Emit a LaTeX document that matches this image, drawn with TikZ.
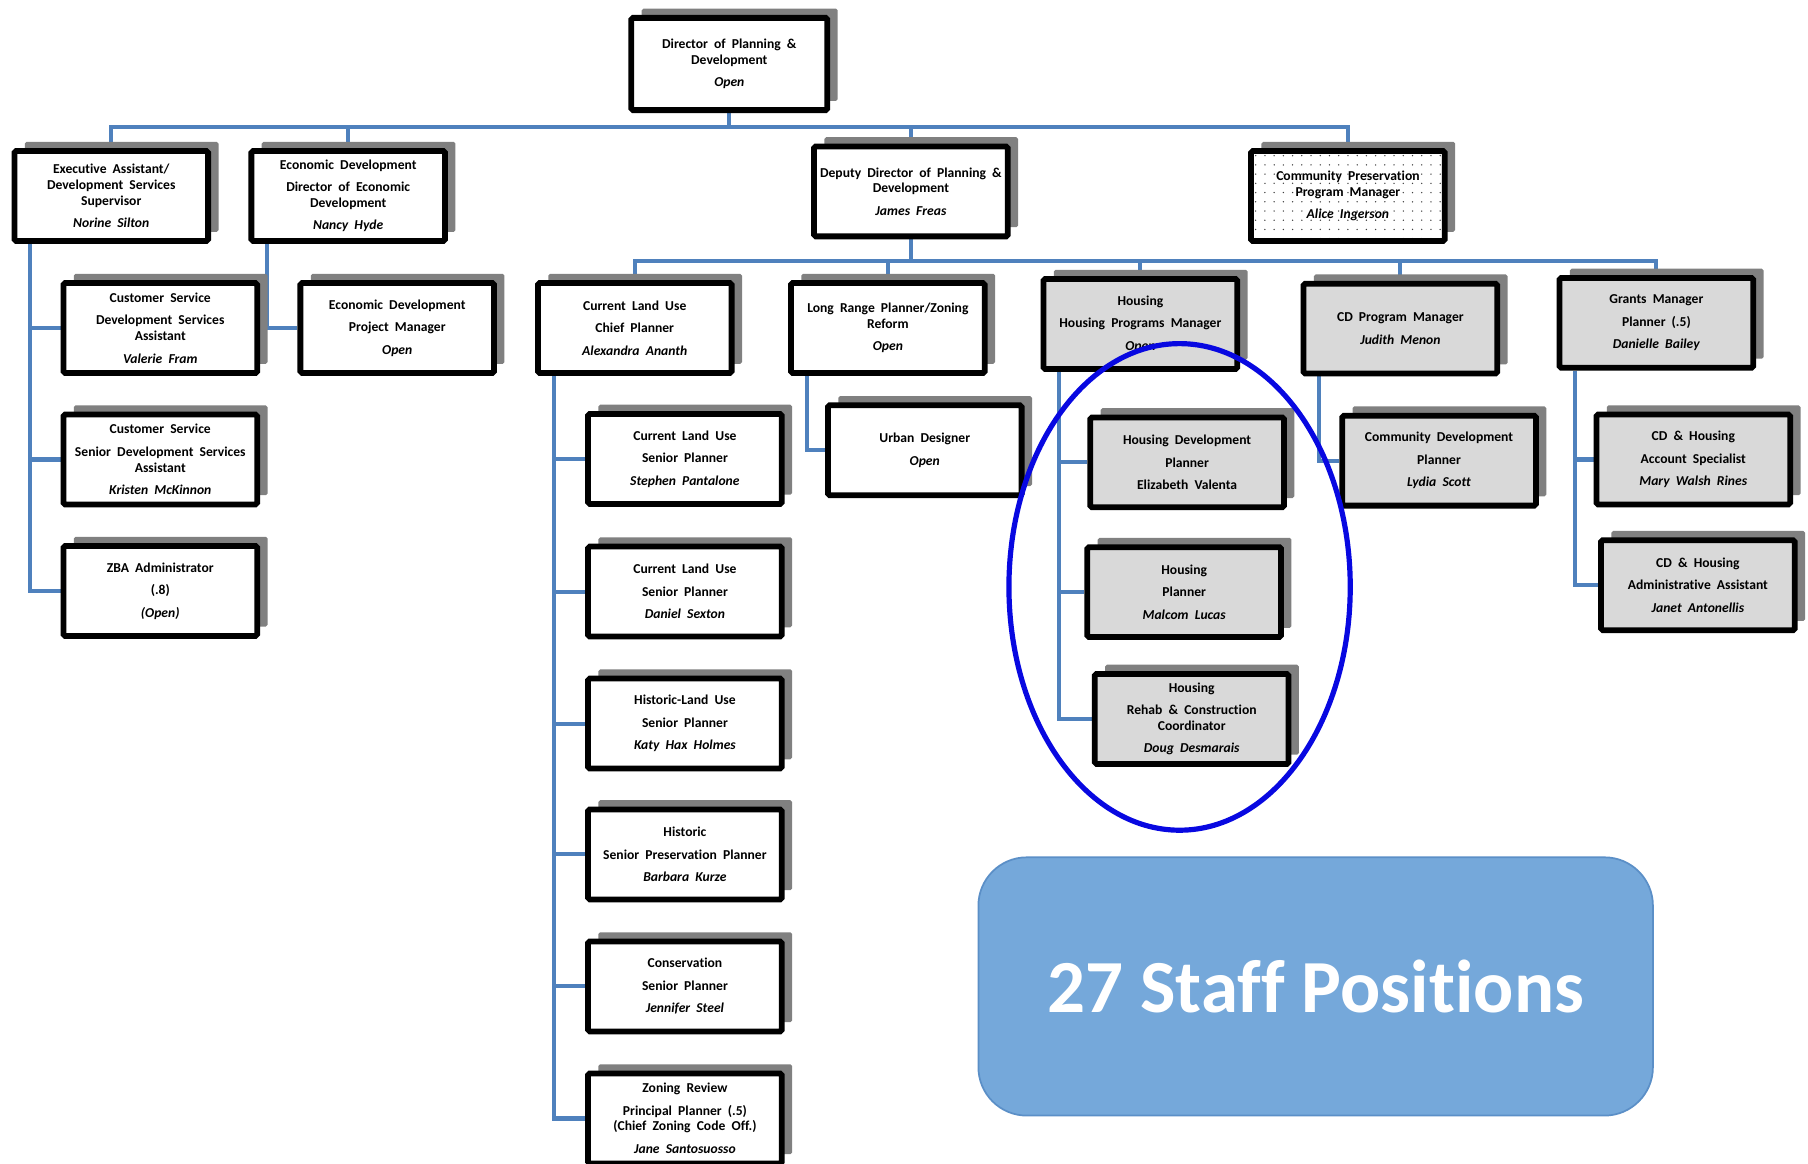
\documentclass[tikz,border=0pt]{standalone}
\usepackage{fontspec}
\setmainfont{Carlito}[Ligatures=NoCommon]
\usetikzlibrary{shadows,backgrounds,calc,shapes.geometric}
\definecolor{connblue}{RGB}{79,129,189}
\definecolor{shgray}{RGB}{128,128,128}
\definecolor{boxgray}{RGB}{217,217,217}
\definecolor{staffblue}{RGB}{117,168,218}
\definecolor{staffedge}{RGB}{91,143,199}
\definecolor{ellblue}{RGB}{8,8,225}
\newcommand\orgboxfont{\fontsize{11.8}{13.5}\selectfont\bfseries\spaceskip=0.45em plus 0.1em minus 0.1em\relax}
\begin{document}
\begin{tikzpicture}[x=1pt,y=-1pt,
  box/.style={draw=black, line width=5pt, rounded corners=1.5pt, fill=white,
    minimum width=168pt, minimum height=78pt, inner sep=1pt, align=center,
    font=\orgboxfont,
    general shadow={fill=shgray, shadow xshift=9pt, shadow yshift=8pt}},
  gbox/.style={box, fill=boxgray},
  conn/.style={draw=connblue, line width=3.5pt},
  staffbox/.style={draw=staffedge, line width=1.5pt, fill=staffblue, rounded corners=42pt,
    minimum width=585pt, minimum height=224pt, text=white,
    font=\fontsize{65}{70}\selectfont\bfseries},
  ring/.style={draw=ellblue, line width=4.5pt, ellipse, minimum width=296pt, minimum height=422pt},
]
\useasboundingbox (0,0) rectangle (1568,1009);

% top level
\node[box, minimum width=170pt, minimum height=80pt] (dir) at (632.5,55.5)
  {Director of Planning \&\\Development\\[6pt]\textit{Open}};

% row 1
\node[box] (exa) at (96.5,170) {Executive Assistant/\\Development Services\\Supervisor\\[6pt]\textit{Norine Silton}};
\node[box] (ecd) at (302,170) {Economic Development\\[6pt]Director of Economic\\Development\\[6pt]\textit{Nancy Hyde}};
\node[box] (dep) at (790,166) {Deputy Director of Planning \&\\Development\\[6pt]\textit{James Freas}};
\node[box, path picture={
    \foreach \i in {0,...,20} \foreach \j in {0,...,10}
      \fill[black!75] ($(path picture bounding box.north west)+(\i*8+4,\j*8+4)$) circle (0.65pt);}]
  (cpm) at (1169,170) {Community Preservation\\Program Manager\\[6pt]\textit{Alice Ingerson}};

% left branch
\node[box] (cs1) at (139,284.5) {Customer Service\\[6pt]Development Services\\Assistant\\[6pt]\textit{Valerie Fram}};
\node[box] (cs2) at (139,398.5) {Customer Service\\[6pt]Senior Development Services\\Assistant\\[6pt]\textit{Kristen McKinnon}};
\node[box] (zba) at (139,512.5) {ZBA Administrator\\[6pt](.8)\\[6pt]\textit{(Open)}};
\node[box] (edpm) at (344.5,284.5) {Economic Development\\[6pt]Project Manager\\[6pt]\textit{Open}};

% row 2
\node[box] (clu) at (550.5,284.5) {Current Land Use\\[6pt]Chief Planner\\[6pt]\textit{Alexandra Ananth}};
\node[box] (lrp) at (770,284.5) {Long Range Planner/Zoning\\Reform\\[6pt]\textit{Open}};
\node[gbox] (hou) at (989,281) {Housing\\[6pt]Housing Programs Manager\\[6pt]\textit{Open}};
\node[gbox] (cdp) at (1214.5,285) {CD Program Manager\\[6pt]\textit{Judith Menon}};
\node[gbox] (grm) at (1436.5,280) {Grants Manager\\[6pt]Planner (.5)\\[6pt]\textit{Danielle Bailey}};

% current land use column
\node[box] (s1) at (594,398) {Current Land Use\\[6pt]Senior Planner\\[6pt]\textit{Stephen Pantalone}};
\node[box] (s2) at (594,513) {Current Land Use\\[6pt]Senior Planner\\[6pt]\textit{Daniel Sexton}};
\node[box] (s3) at (594,627.5) {Historic-Land Use\\[6pt]Senior Planner\\[6pt]\textit{Katy Hax Holmes}};
\node[box] (s4) at (594,741) {Historic\\[6pt]Senior Preservation Planner\\[6pt]\textit{Barbara Kurze}};
\node[box] (s5) at (594,855.5) {Conservation\\[6pt]Senior Planner\\[6pt]\textit{Jennifer Steel}};
\node[box] (s6) at (594,970) {Zoning Review\\[6pt]Principal Planner (.5)\\(Chief Zoning Code Off.)\\[6pt]\textit{Jane Santosuosso}};

% long range
\node[box] (urb) at (802,390.5) {Urban Designer\\[6pt]\textit{Open}};

% housing column
\node[gbox] (hd1) at (1029.5,401) {Housing Development\\[6pt]Planner\\[6pt]Elizabeth Valenta};
\node[gbox] (hd2) at (1027,513.5) {Housing\\[6pt]Planner\\[6pt]\textit{Malcom Lucas}};
\node[gbox] (hd3) at (1033.5,623.5) {Housing\\[6pt]Rehab \& Construction\\Coordinator\\[6pt]\textit{Doug Desmarais}};

% CD program
\node[gbox] (cdpl) at (1248,399.5) {Community Development\\[6pt]Planner\\[6pt]\textit{Lydia Scott}};

% grants
\node[gbox] (cda) at (1468.5,398.5) {CD \& Housing\\[6pt]Account Specialist\\[6pt]\textit{Mary Walsh Rines}};
\node[gbox] (cdb) at (1472.5,507.5) {CD \& Housing\\[6pt]Administrative Assistant\\[6pt]\textit{Janet Antonellis}};

% connectors
\begin{scope}[on background layer]
\draw[conn] (dir.south) -- ++(0,12) -| (exa.north);
\draw[conn] (dir.south) -- ++(0,12) -| (ecd.north);
\draw[conn] (dir.south) -- ++(0,12) -| (dep.north);
\draw[conn] (dir.south) -- ++(0,12) -| (cpm.north);

\draw[conn] ($(exa.south west)+(16,0)$) |- (cs1.west);
\draw[conn] ($(exa.south west)+(16,0)$) |- (cs2.west);
\draw[conn] ($(exa.south west)+(16,0)$) |- (zba.west);
\draw[conn] ($(ecd.south west)+(16,0)$) |- (edpm.west);

\draw[conn] (dep.south) -- ++(0,19) -| (clu.north);
\draw[conn] (dep.south) -- ++(0,19) -| (lrp.north);
\draw[conn] (dep.south) -- ++(0,19) -| (hou.north);
\draw[conn] (dep.south) -- ++(0,19) -| (cdp.north);
\draw[conn] (dep.south) -- ++(0,19) -| (grm.north);

\foreach \n in {s1,s2,s3,s4,s5,s6}
  \draw[conn] ($(clu.south west)+(16.5,0)$) |- (\n.west);
\draw[conn] ($(lrp.south west)+(16.5,0)$) |- (urb.west);
\foreach \n in {hd1,hd2,hd3}
  \draw[conn] ($(hou.south west)+(16,0)$) |- (\n.west);
\draw[conn] ($(cdp.south west)+(16,0)$) |- (cdpl.west);
\foreach \n in {cda,cdb}
  \draw[conn] ($(grm.south west)+(16,0)$) |- (\n.west);
\end{scope}

% highlight and summary
\node[ring] (circ) at (1023,509) {};
\node[staffbox] (staff) at (1141,855.5) {27 Staff Positions};
\end{tikzpicture}
\end{document}
